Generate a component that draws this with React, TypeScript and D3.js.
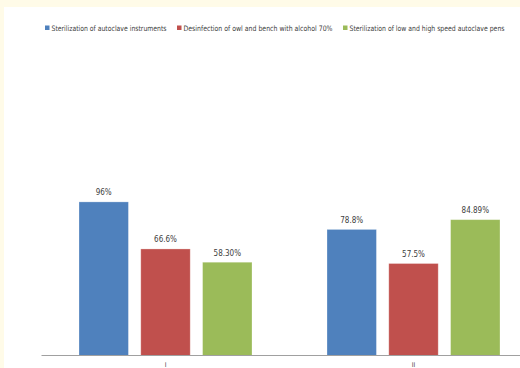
import React from "react";
import * as d3 from "d3";

const categories = ["I", "II"];
const seriesNames = [
  "Sterilization of autoclave instruments",
  "Desinfection of owl and bench with alcohol 70%",
  "Sterilization of low and high speed autoclave pens",
];
const sterilizationInstruments = [96, 78.8];
const desinfectionBench = [66.6, 57.5];
const sterilizationPens = [58.3, 84.89];
const valueLabels = [
  ["96%", "78.8%"],
  ["66.6%", "57.5%"],
  ["58.30%", "84.89%"],
];
const seriesColors = ["#4F81BD", "#C0504D", "#9BBB59"];

const W = 520;
const H = 368;
const FONT = "'Liberation Sans Narrow', 'DejaVu Sans Condensed', 'Liberation Sans', sans-serif";

export default function App() {
  const series = [sterilizationInstruments, desinfectionBench, sterilizationPens];

  const x0 = d3.scaleBand<string>().domain(categories).range([41.5, 537.5]).paddingInner(0).paddingOuter(0);
  const x1 = d3
    .scaleBand<number>()
    .domain(d3.range(series.length))
    .range([37.5, 210.5])
    .paddingInner(0.2)
    .paddingOuter(0);
  const y = d3.scaleLinear().domain([0, 100]).range([355.5, 195.5]);

  // legend layout: marker x, text start x, text width
  const legend = [
    { mx: 45, tx: 51.5, tw: 115 },
    { mx: 177, tx: 183.5, tw: 149 },
    { mx: 343, tx: 349.5, tw: 155 },
  ];

  return (
    <svg
      width={W}
      height={H}
      style={{ position: "absolute", left: 0, top: 0, display: "block" }}
      fontFamily={FONT}
    >
      <rect x={0} y={0} width={W} height={H} fill="#FFFBE8" />
      <rect x={4} y={7} width={W - 4} height={H - 7} fill="#FFFFFF" />

      {seriesNames.map((name, i) => (
        <g key={name}>
          <rect x={legend[i].mx} y={25.5} width={4.5} height={4.5} fill={seriesColors[i]} />
          <text
            x={legend[i].tx}
            y={30.5}
            fontSize={7.5}
            fill="#404040"
            textLength={legend[i].tw}
            lengthAdjust="spacingAndGlyphs"
          >
            {name}
          </text>
        </g>
      ))}

      {categories.map((cat, ci) => (
        <g key={cat} transform={`translate(${x0(cat)},0)`}>
          {series.map((vals, si) => {
            const bx = x1(si)!;
            const bw = x1.bandwidth();
            const v = vals[ci];
            return (
              <g key={si}>
                <rect
                  x={bx}
                  y={y(v)}
                  width={bw}
                  height={y(0) - y(v)}
                  fill={seriesColors[si]}
                  stroke="#ffffff"
                  strokeOpacity={0.35}
                  strokeWidth={0.8}
                />
                <text
                  x={bx + bw / 2}
                  y={y(v) - 6.5}
                  textAnchor="middle"
                  fontSize={8}
                  fill="#404040"
                >
                  {valueLabels[si][ci]}
                </text>
              </g>
            );
          })}
          <text
            x={x0.bandwidth() / 2}
            y={366.5}
            textAnchor="middle"
            fontSize={6.5}
            fill="#404040"
          >
            {cat}
          </text>
        </g>
      ))}

      <line x1={41.5} x2={W} y1={355.5} y2={355.5} stroke="#A0A0A0" strokeWidth={1} />
    </svg>
  );
}
